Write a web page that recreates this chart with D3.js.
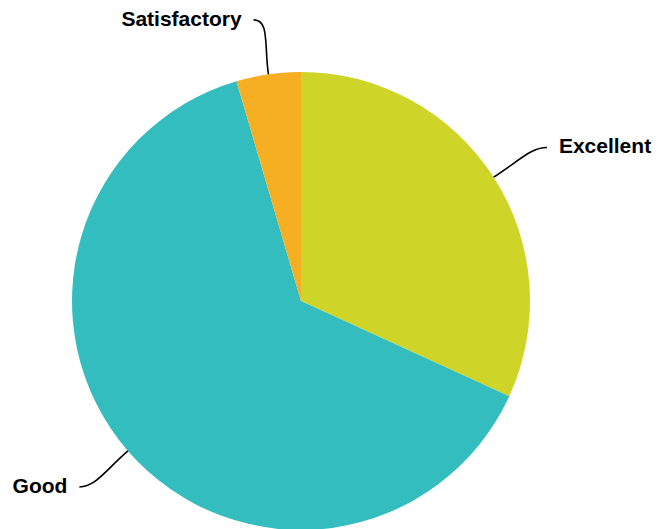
<!DOCTYPE html>
<html>
<head>
<meta charset="utf-8">
<script src="https://cdn.jsdelivr.net/npm/d3@7"></script>
<style>
  html, body { margin: 0; padding: 0; background: #ffffff; }
  svg { display: block; }
</style>
</head>
<body>
<svg id="chart" width="659" height="529"></svg>
<script>
const categories = ["Excellent", "Good", "Satisfactory"];
const values = [7, 14, 1];
const colors = ["#cfd528", "#33bdbf", "#f6ae22"];

const width = 659, height = 529;
const cx = 301, cy = 301, radius = 229;

const svg = d3.select("#chart");
const g = svg.append("g").attr("transform", `translate(${cx},${cy})`);

const data = categories.map((c, i) => ({ name: c, value: values[i], color: colors[i] }));
const pie = d3.pie().sort(null).value(d => d.value).startAngle(0).endAngle(2 * Math.PI);
const arcs = pie(data);
const arc = d3.arc().innerRadius(0).outerRadius(radius);

g.selectAll("path.slice")
  .data(arcs)
  .join("path")
  .attr("class", "slice")
  .attr("d", arc)
  .attr("fill", d => d.data.color);

function pt(a, r) { return [r * Math.sin(a), -r * Math.cos(a)]; }

arcs.forEach(d => {
  const a = (d.startAngle + d.endAngle) / 2;
  const u = [Math.sin(a), -Math.cos(a)];
  const sign = u[0] >= 0 ? 1 : -1;
  const p0 = pt(a, radius);
  const pe = pt(a, radius + 55);
  pe[0] += sign * 7;
  const c1 = [p0[0] + u[0] * 30, p0[1] + u[1] * 30];
  const c2 = [pe[0] - sign * 16, pe[1]];
  g.append("path")
    .attr("d", `M${p0[0]},${p0[1]}C${c1[0]},${c1[1]} ${c2[0]},${c2[1]} ${pe[0]},${pe[1]}`)
    .attr("fill", "none")
    .attr("stroke", "#000")
    .attr("stroke-width", 1.6);
  g.append("text")
    .attr("x", pe[0] + sign * 12)
    .attr("y", pe[1] + 6)
    .attr("text-anchor", sign > 0 ? "start" : "end")
    .attr("font-family", "Liberation Sans, Arial, sans-serif")
    .attr("font-weight", "bold")
    .attr("font-size", "21px")
    .attr("fill", "#000")
    .text(d.data.name);
});
</script>
</body>
</html>
